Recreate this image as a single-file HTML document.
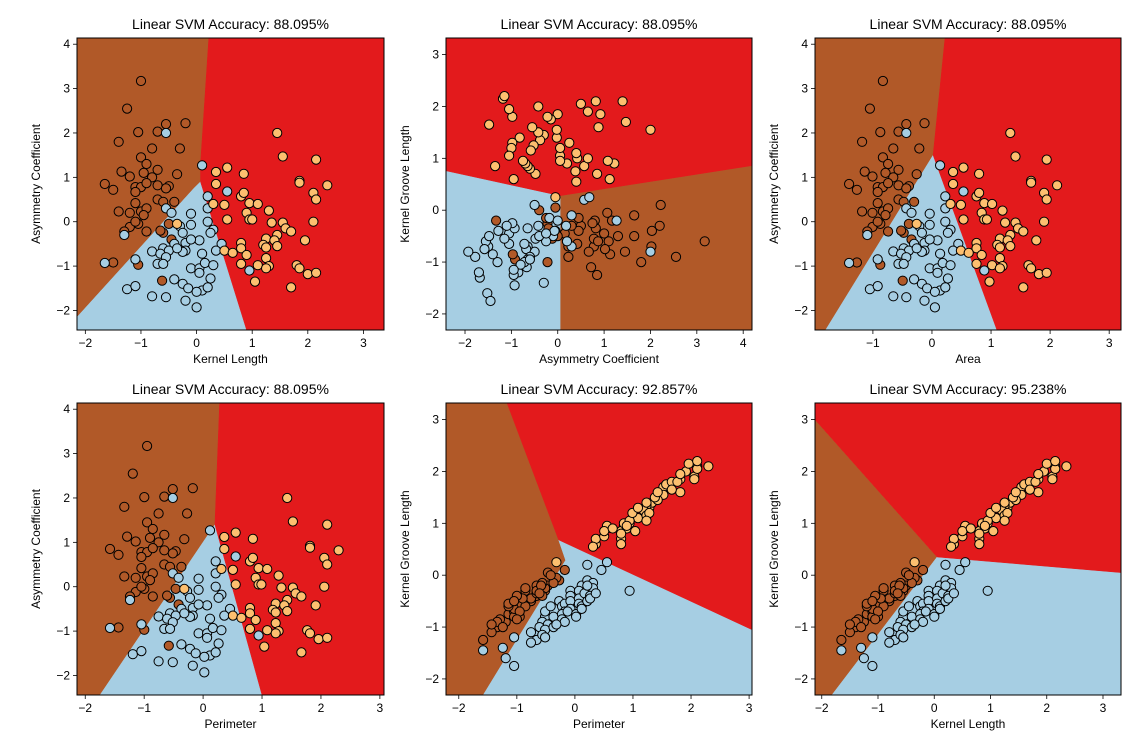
<!DOCTYPE html>
<html><head><meta charset="utf-8"><style>
html,body{margin:0;padding:0;background:#fff;}
svg{display:block;font-family:"Liberation Sans","DejaVu Sans",sans-serif;}
</style></head><body>
<svg id="fig" width="1136" height="746" viewBox="0 0 1136 746" xmlns="http://www.w3.org/2000/svg"></svg>
<script>
// ---- data: samples by class (kernel length, asymmetry, groove) ----
const brownLen=[-1.0,-1.25,-0.55,-0.2,-1.05,-0.7,-1.4,-0.8,-0.3,-1.0,-0.9,-0.95,-1.35,-1.2,-0.7,-0.8,-0.35,-1.65,-1.5,-1.1,-1.0,-0.9,-0.7,-0.5,-0.55,-1.1,-0.7,-0.6,-0.4,-1.1,-1.4,-1.2,-1.0,-0.9,-0.95,-1.2,-1.05,-1.3,-0.9,-0.5,-0.6,-0.45,-1.5,-1.05,-0.62,-1.1,-0.65];
const brownAsym=[3.17,2.55,2.2,2.22,2.02,2.03,1.8,1.65,1.65,1.45,1.3,1.1,1.13,1.02,1.17,1.0,1.07,0.85,0.72,0.78,0.78,0.87,0.82,0.8,0.75,0.67,0.5,0.45,0.45,0.42,0.23,0.2,0.23,0.3,0.15,-0.12,-0.05,-0.22,-0.22,-0.05,-0.25,-0.4,-0.92,-0.97,-1.33,0.0,-0.2];
const brownGroove=[-0.6,-0.9,-0.3,0.1,-0.7,-0.4,-1.0,-0.5,-0.1,-0.8,-0.5,-0.6,-0.85,-0.75,-0.2,-0.45,-0.05,-1.25,-1.1,-0.7,-0.55,-0.6,-0.35,-0.2,-0.25,-0.8,-0.3,-0.4,-0.15,-0.65,-0.9,-0.6,-0.7,-0.3,-0.45,-0.55,-0.4,-1.0,-0.25,0.05,-0.15,0.0,-0.95,-0.85,-0.2,-0.5,-0.35];
const blueLen=[-0.55,0.1,-1.3,-1.65,-1.1,-0.55,-0.45,0.2,0.2,-0.1,0.55,-0.3,-0.1,-0.25,-0.4,-0.2,-0.2,-0.25,0.05,-0.1,0.3,0.45,-0.8,-0.6,-0.5,-0.65,-0.55,-0.7,-0.6,-0.1,0.05,0.15,0.3,0.05,-0.4,-0.25,-0.15,0.25,0.1,0.0,0.2,-1.25,-1.1,-0.8,-0.55,-0.2,0.0,0.95,0.2,0.25,-0.35,0.35,0.1];
const blueAsym=[2.0,1.27,-0.3,-0.93,-0.85,0.3,0.2,0.57,0.3,0.18,0.68,-0.1,-0.07,-0.25,-0.5,-0.48,-0.65,-0.68,-0.42,-0.4,-0.18,-0.5,-0.67,-0.6,-0.65,-0.72,-0.8,-0.95,-0.95,-1.05,-1.05,-0.93,-0.98,-1.15,-1.3,-1.4,-1.5,-1.28,-1.55,-1.58,-1.48,-1.52,-1.45,-1.68,-1.7,-1.78,-1.93,-1.1,0.0,-0.25,-0.6,-0.65,-0.72];
const blueGroove=[-0.8,-0.2,-1.4,-1.45,-1.2,-0.7,-0.6,0.2,-0.1,-0.3,0.25,-0.5,-0.4,-0.6,-0.8,-0.55,-0.7,-0.75,-0.3,-0.5,-0.15,0.1,-1.1,-0.9,-0.95,-1.0,-1.05,-1.25,-1.15,-0.65,-0.45,-0.35,-0.25,-0.55,-1.0,-0.85,-0.7,-0.4,-0.6,-0.75,-0.5,-1.6,-1.75,-1.3,-1.2,-0.9,-0.8,-0.3,-0.2,-0.45,-0.95,-0.35,-0.65];
const orangeLen=[1.45,1.55,2.15,0.35,0.55,0.85,0.35,1.85,1.85,2.35,2.1,2.15,0.8,0.85,0.95,1.1,0.3,0.5,1.3,0.9,0.95,1.0,0.55,1.35,1.55,2.1,1.6,1.7,1.45,1.25,1.4,1.95,0.8,1.2,1.25,1.45,0.8,0.5,0.65,0.9,1.25,0.8,1.1,1.3,1.25,1.8,1.85,2.0,2.15,1.05,1.7,-0.35];
const orangeAsym=[2.0,1.47,1.4,1.12,1.22,1.08,0.85,0.92,0.88,0.82,0.65,0.5,0.57,0.65,0.42,0.4,0.4,0.38,0.25,0.2,0.05,0.05,0.05,-0.02,-0.02,0.0,-0.15,-0.22,-0.3,-0.38,-0.42,-0.42,-0.48,-0.52,-0.58,-0.55,-0.6,-0.65,-0.7,-0.75,-0.82,-0.95,-0.98,-1.0,-1.05,-0.98,-1.05,-1.18,-1.15,-1.35,-1.48,-0.05];
const orangeGroove=[1.55,1.7,2.1,0.6,0.9,0.95,0.7,1.85,1.6,2.1,1.9,2.05,0.85,1.0,1.0,1.1,0.55,0.75,1.3,0.9,1.05,1.2,0.95,1.4,1.55,1.85,1.75,1.8,1.45,1.35,1.5,2.0,0.7,1.25,1.15,1.6,0.8,0.85,0.9,0.95,1.4,0.6,1.3,1.2,1.05,1.8,1.95,2.15,2.2,0.85,1.65,0.25];
const titles=["Linear SVM Accuracy: 88.095%","Linear SVM Accuracy: 88.095%","Linear SVM Accuracy: 88.095%","Linear SVM Accuracy: 88.095%","Linear SVM Accuracy: 92.857%","Linear SVM Accuracy: 95.238%"];
const xLabels=["Kernel Length","Asymmetry Coefficient","Area","Perimeter","Perimeter","Kernel Length"];
const yLabels=["Asymmetry Coefficient","Kernel Groove Length","Asymmetry Coefficient","Asymmetry Coefficient","Kernel Groove Length","Kernel Groove Length"];
const xTicks=[[-2,-1,0,1,2,3],[-2,-1,0,1,2,3,4],[-1,0,1,2,3],[-2,-1,0,1,2,3],[-2,-1,0,1,2,3],[-2,-1,0,1,2,3]];
const yTicks=[[-2,-1,0,1,2,3,4],[-2,-1,0,1,2,3],[-2,-1,0,1,2,3,4],[-2,-1,0,1,2,3,4],[-2,-1,0,1,2,3],[-2,-1,0,1,2,3]];
const xDomains=[[-2.15,3.37],[-2.41,4.19],[-1.98,3.2],[-2.14,3.07],[-2.22,3.05],[-2.12,3.32]];
const yDomains=[[-2.44,4.14],[-2.31,3.32],[-2.44,4.14],[-2.44,4.14],[-2.31,3.32],[-2.31,3.32]];
// decision regions [brown, blue, red] polygons in data coords
const regions=[
 [[[-2.15,4.14],[0.22,4.14],[0.07,1.3],[0.07,0.9],[-0.05,0.75],[-2.15,-2.15]],
  [[-2.15,-2.15],[-0.05,0.75],[0.07,0.9],[0.9,-2.44],[-2.15,-2.44]],
  [[0.22,4.14],[3.37,4.14],[3.37,-2.44],[0.9,-2.44],[0.07,0.9],[0.07,1.3]]],
 [[[0.05,0.28],[4.19,0.86],[4.19,-2.31],[0.05,-2.31]],
  [[-2.41,0.76],[0.05,0.28],[0.05,-2.31],[-2.41,-2.31]],
  [[-2.41,3.32],[4.19,3.32],[4.19,0.86],[0.05,0.28],[-2.41,0.76]]],
 [[[-1.98,4.14],[0.22,4.14],[0.02,1.5],[-1.8,-2.44],[-1.98,-2.44]],
  [[0.02,1.5],[1.1,-2.44],[-1.8,-2.44]],
  [[0.22,4.14],[3.2,4.14],[3.2,-2.44],[1.1,-2.44],[0.02,1.5]]],
 [[[-2.14,4.14],[0.28,4.14],[0.2,1.4],[-1.75,-2.44],[-2.14,-2.44]],
  [[0.2,1.4],[1.0,-2.44],[-1.75,-2.44]],
  [[0.28,4.14],[3.07,4.14],[3.07,-2.44],[1.0,-2.44],[0.2,1.4]]],
 [[[-2.22,3.32],[-1.17,3.32],[-0.28,0.68],[-0.16,0.29],[-1.58,-2.31],[-2.22,-2.31]],
  [[-0.28,0.68],[3.05,-1.05],[3.05,-2.31],[-1.58,-2.31],[-0.16,0.29]],
  [[-1.17,3.32],[3.05,3.32],[3.05,-1.05],[-0.28,0.68]]],
 [[[-2.12,3.0],[0.05,0.35],[-1.82,-2.31],[-2.12,-2.31]],
  [[0.05,0.35],[3.32,0.05],[3.32,-2.31],[-1.82,-2.31]],
  [[-2.12,3.32],[3.32,3.32],[3.32,0.05],[0.05,0.35],[-2.12,3.0]]]
];
const regionColors=["#b15928","#a6cee3","#e31a1c"];
const pointColors=["#b15928","#a6cee3","#fdbf6f"];
const axL=[77,446,815], axW=[307,306,306], rowT=[38,403], axH=292;
const NS="http://www.w3.org/2000/svg";
const svg=document.getElementById('fig');
function mk(tag,attrs,parent){const e=document.createElementNS(NS,tag);for(const k in attrs)e.setAttribute(k,attrs[k]);(parent||svg).appendChild(e);return e;}
// features per plot: functions returning x and y arrays per class
function feat(name,len){ // area/perimeter derived from kernel length
  if(name==="Area")return len.map(v=>v*0.88+0.05);
  if(name==="Perimeter")return len.map(v=>v*0.97+0.02);
  return len;
}
const classes=[[brownLen,brownAsym,brownGroove],[blueLen,blueAsym,blueGroove],[orangeLen,orangeAsym,orangeGroove]];
function getArr(label,c){
  const [l,a,g]=classes[c];
  if(label==="Asymmetry Coefficient")return a;
  if(label==="Kernel Groove Length")return g;
  return feat(label,l);
}
for(let p=0;p<6;p++){
  const L=axL[p%3],W=axW[p%3],T=rowT[Math.floor(p/3)],H=axH;
  const xd=xDomains[p],yd=yDomains[p];
  const sx=v=>L+(v-xd[0])/(xd[1]-xd[0])*W;
  const sy=v=>T+(yd[1]-v)/(yd[1]-yd[0])*H;
  const g=mk('g',{});
  
  
  const cid='clip'+p;
  const cp=mk('clipPath',{id:cid},g);mk('rect',{x:L,y:T,width:W,height:H},cp);
  const rg=mk('g',{'clip-path':'url(#'+cid+')'},g);
  regions[p].forEach((poly,ci)=>{
    const e=mk('polygon',{points:poly.map(q=>sx(q[0]).toFixed(1)+','+sy(q[1]).toFixed(1)).join(' '),fill:regionColors[ci],stroke:regionColors[ci],'stroke-width':0.5},rg);
    
    
  });
  for(let c=0;c<3;c++){
    const xs=getArr(xLabels[p],c),ys=getArr(yLabels[p],c);
    for(let i=0;i<xs.length;i++){
      const e=mk('circle',{cx:sx(xs[i]).toFixed(1),cy:sy(ys[i]).toFixed(1),r:4.6,fill:pointColors[c],stroke:'#000','stroke-width':1},rg);
      
      
    }
  }
  mk('rect',{x:L,y:T,width:W,height:H,fill:'none',stroke:'#000','stroke-width':1},g);
  xTicks[p].forEach(t=>{
    const x=sx(t);
    mk('line',{x1:x,x2:x,y1:T+H,y2:T+H+4,stroke:'#000','stroke-width':0.8},g);
    const e=mk('text',{x:x,y:T+H+17,'font-size':12,'text-anchor':'middle',fill:'#000'},g);
    e.textContent=t<0?'\u2212'+(-t):String(t);
    
    
  });
  yTicks[p].forEach(t=>{
    const y=sy(t);
    mk('line',{x1:L-4,x2:L,y1:y,y2:y,stroke:'#000','stroke-width':0.8},g);
    const e=mk('text',{x:L-7,y:y+4,'font-size':12,'text-anchor':'end',fill:'#000'},g);
    e.textContent=t<0?'\u2212'+(-t):String(t);
    
    
  });
  const tt=mk('text',{x:L+W/2,y:T-9,'font-size':14,'text-anchor':'middle',fill:'#000'},g);
  tt.textContent=titles[p];
  
  
  const xl=mk('text',{x:L+W/2,y:T+H+33,'font-size':12,'text-anchor':'middle',fill:'#000'},g);
  xl.textContent=xLabels[p];
  
  
  const yl=mk('text',{x:0,y:0,'font-size':12,'text-anchor':'middle',fill:'#000',transform:'translate('+(L-37)+','+(T+H/2)+') rotate(-90)'},g);
  yl.textContent=yLabels[p];
  
  
}
const wm=mk('text',{x:1130,y:731,'font-size':13,'text-anchor':'end',fill:'#ffffff','fill-opacity':0.85,'font-family':'"Liberation Sans","Noto Sans CJK SC",sans-serif'});
wm.textContent='CSDN @开开心心-';


</script>
</body></html>
